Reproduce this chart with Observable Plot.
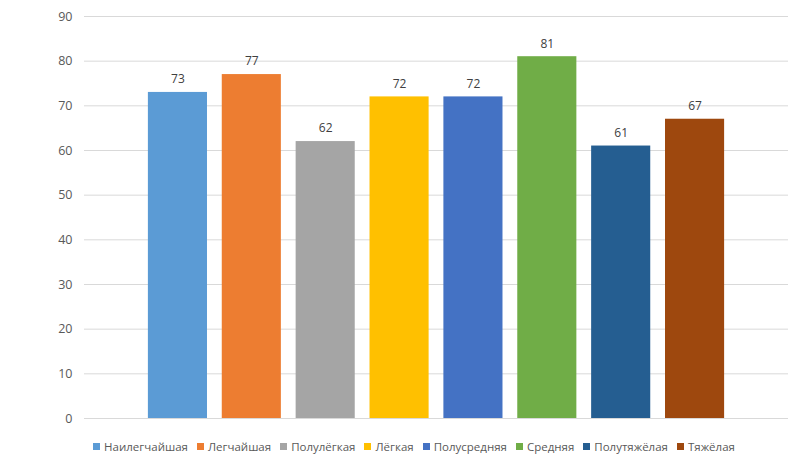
<!DOCTYPE html>
<html><head><meta charset="utf-8">
<script src="https://cdn.jsdelivr.net/npm/d3@7"></script>
<script src="https://cdn.jsdelivr.net/npm/@observablehq/plot@0.6"></script>
<style>
body{margin:0;background:#fff;font-family:"Open Sans",sans-serif;}
#legend{display:flex;justify-content:center;gap:9px;font-size:11.5px;color:#595959;margin-top:9px;padding-left:28px;}
#legend span{display:inline-flex;align-items:center;}
#legend i{display:inline-block;width:7px;height:7px;margin-right:4px;}
</style></head><body>
<div id="chart"></div>
<div id="legend"></div>
<script>
const categories = ["Наилегчайшая","Легчайшая","Полулёгкая","Лёгкая","Полусредняя","Средняя","Полутяжёлая","Тяжёлая"];
const values = [73,77,62,72,72,81,61,67];
const colors = ["#5B9BD5","#ED7D31","#A5A5A5","#FFC000","#4472C4","#70AD47","#255E91","#9E480E"];
const yTicks = [0,10,20,30,40,50,60,70,80,90];

const data = categories.map((c,i)=>({cat:c, value:values[i]}));

const plot = Plot.plot({
  width: 800, height: 430,
  marginLeft: 84, marginRight: 12, marginTop: 16, marginBottom: 12,
  style: {fontFamily: "'Open Sans', sans-serif", fontSize: "12.5px", color: "#595959"},
  x: {domain: categories, range: [140.5, 731.5], paddingInner: 0.2, paddingOuter: 0.1, round: false, axis: null},
  y: {domain: [0,90], ticks: yTicks, label: null, tickSize: 0, tickPadding: 12},
  color: {domain: categories, range: colors},
  marks: [
    Plot.ruleY(yTicks, {stroke: "#d9d9d9", strokeWidth: 1}),
    Plot.barY(data, {x: "cat", y: "value", fill: "cat"}),
    Plot.text(data, {x: "cat", y: "value", text: d => String(d.value), dy: -13, fill: "#404040", fontSize: 12})
  ]
});
document.getElementById("chart").appendChild(plot);

const lg = document.getElementById("legend");
categories.forEach((c,i)=>{
  const s = document.createElement("span");
  s.innerHTML = `<i style="background:${colors[i]}"></i>${c}`;
  lg.appendChild(s);
});
</script>
</body></html>
